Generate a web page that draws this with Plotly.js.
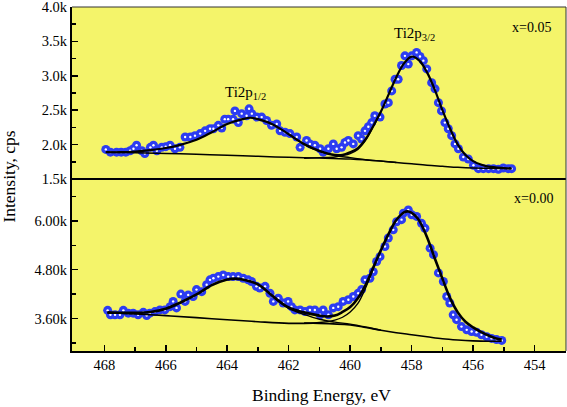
<!DOCTYPE html>
<html>
<head>
<meta charset="utf-8">
<script src="https://cdn.plot.ly/plotly-3.0.1.min.js"></script>
<style>
html,body{margin:0;padding:0;background:#fff;}
#chart{width:567px;height:407px;}
</style>
</head>
<body>
<div id="chart"></div>
<script>
// ---------- x = 0.05 (top panel), intensity in k cps ----------
const topX = [467.95,467.8,467.6,467.45,467.3,467.16,467.05,466.95,466.78,466.68,466.5,466.4,466.29,466.13,466.0,465.86,465.7,465.54,465.37,465.2,465.05,464.88,464.72,464.56,464.45,464.29,464.18,464.08,463.97,463.81,463.75,463.64,463.53,463.37,463.29,463.2,463.04,462.88,462.72,462.56,462.39,462.28,462.12,461.96,461.74,461.63,461.42,461.31,461.15,460.98,460.88,460.71,460.55,460.44,460.28,460.17,460.06,459.9,459.74,459.63,459.52,459.41,459.3,459.2,459.03,458.87,458.76,458.65,458.54,458.44,458.33,458.22,458.11,458.0,457.84,457.73,457.62,457.51,457.35,457.24,457.13,457.03,456.92,456.81,456.7,456.59,456.48,456.32,456.16,455.99,455.83,455.67,455.5,455.34,455.18,455.02,454.86,454.75];
const topY = [1.93,1.89,1.89,1.89,1.89,1.91,1.94,1.99,1.91,1.87,1.96,1.99,1.91,1.96,1.97,1.99,1.94,1.96,2.11,2.11,2.13,2.16,2.20,2.23,2.23,2.28,2.24,2.37,2.37,2.37,2.49,2.32,2.45,2.42,2.52,2.45,2.40,2.40,2.35,2.28,2.30,2.20,2.18,2.16,2.11,1.96,2.06,2.01,1.99,1.94,1.89,1.94,2.01,1.94,1.96,2.03,2.06,2.01,2.13,2.08,2.20,2.26,2.32,2.42,2.40,2.59,2.61,2.78,2.95,2.95,3.15,3.29,3.17,3.29,3.34,3.28,3.22,3.10,2.90,2.81,2.61,2.49,2.32,2.23,2.13,2.01,1.94,1.82,1.79,1.70,1.65,1.65,1.65,1.65,1.64,1.66,1.65,1.65];

const topFitX = [467.95,467.5,467,466.5,466,465.5,465,464.5,464,463.5,463.25,463,462.5,462,461.5,461,460.5,460.25,460,459.75,459.5,459.25,459,458.75,458.5,458.25,458,457.75,457.5,457.25,457,456.75,456.5,456.25,456,455.75,455.5,455,454.75];
const topFitY = [1.89,1.89,1.90,1.92,1.95,2.00,2.07,2.18,2.30,2.37,2.39,2.37,2.29,2.15,2.01,1.91,1.85,1.85,1.89,1.95,2.08,2.27,2.48,2.73,2.98,3.18,3.28,3.22,3.05,2.80,2.50,2.23,2.00,1.85,1.76,1.71,1.68,1.66,1.655];

const topBgX = [467.95,467,466,465,464,463,462,461,460,459,458.5,458,457.5,457,456.5,456,455,454.75];
const topBgY = [1.89,1.88,1.87,1.86,1.845,1.83,1.815,1.805,1.79,1.76,1.74,1.72,1.70,1.685,1.67,1.66,1.652,1.65];

const topP1X = [462,461.5,461,460.5,460,459.5,459,458.5];
const topP1Y = [2.15,2.00,1.90,1.84,1.81,1.78,1.76,1.74];
const topP2X = [461.5,461,460.5,460.25,460,459.75,459.5,459.25,459];
const topP2Y = [1.80,1.81,1.82,1.84,1.87,1.93,2.06,2.26,2.48];

// ---------- x = 0.00 (bottom panel), intensity in k cps ----------
const botX = [467.89,467.8,467.65,467.49,467.38,467.22,467.06,466.9,466.73,466.62,466.52,466.35,466.19,466.03,465.86,465.76,465.65,465.51,465.37,465.27,465.11,465.0,464.83,464.67,464.56,464.45,464.29,464.13,463.97,463.81,463.64,463.48,463.32,463.21,463.05,462.94,462.77,462.61,462.5,462.34,462.18,462.02,461.91,461.8,461.63,461.47,461.31,461.15,460.98,460.88,460.71,460.55,460.39,460.23,460.06,459.9,459.74,459.63,459.52,459.36,459.25,459.14,459.03,458.87,458.76,458.6,458.49,458.33,458.27,458.11,458.0,457.84,457.68,457.57,457.4,457.29,457.13,456.97,456.86,456.76,456.65,456.54,456.38,456.21,456.05,455.89,455.73,455.56,455.4,455.24,455.07];
const botY = [3.80,3.69,3.69,3.69,3.80,3.73,3.73,3.69,3.75,3.67,3.73,3.77,3.81,3.81,3.89,4.02,3.86,4.20,4.02,4.18,4.14,4.31,4.26,4.43,4.55,4.59,4.63,4.67,4.63,4.63,4.63,4.59,4.55,4.51,4.39,4.35,4.39,4.22,4.02,4.10,3.98,4.02,3.89,3.81,3.81,3.77,3.81,3.81,3.69,3.81,3.69,3.86,3.89,4.02,4.06,4.14,4.22,4.31,4.55,4.59,4.75,5.00,5.12,5.37,5.58,5.78,5.98,6.03,6.19,6.27,6.15,6.11,5.94,5.82,5.33,5.17,4.72,4.51,4.14,3.98,3.69,3.57,3.40,3.32,3.28,3.26,3.20,3.15,3.11,3.08,3.06];

const botFitX = [467.9,467.5,467,466.5,466,465.5,465,464.5,464,463.75,463.5,463,462.5,462,461.5,461,460.75,460.5,460.25,460,459.75,459.5,459.25,459,458.75,458.5,458.25,458.1,457.9,457.75,457.5,457.25,457,456.75,456.5,456.25,456,455.75,455.5,455.25,455.07];
const botFitY = [3.75,3.74,3.74,3.76,3.84,4.00,4.19,4.42,4.56,4.58,4.56,4.44,4.14,3.87,3.75,3.67,3.65,3.67,3.76,3.88,4.10,4.42,4.85,5.28,5.68,6.02,6.21,6.23,6.14,6.00,5.60,5.08,4.58,4.10,3.75,3.52,3.38,3.27,3.18,3.11,3.08];

const botBgX = [467.9,467,466,465,464,463,462,461,460,459.5,459,458.5,458,457.5,457,456.5,456,455.5,455.07];
const botBgY = [3.74,3.71,3.67,3.62,3.57,3.52,3.48,3.48,3.44,3.38,3.31,3.25,3.20,3.15,3.10,3.07,3.05,3.04,3.04];

const botP1X = [462.5,462,461.5,461,460.5,460,459.5,459];
const botP1Y = [4.12,3.85,3.70,3.58,3.51,3.46,3.39,3.31];
const botP2X = [461.5,461,460.5,460.25,460,459.75,459.5,459.25];
const botP2Y = [3.49,3.50,3.56,3.63,3.76,3.97,4.35,4.82];

// ---------- ticks & labels ----------
const xTickVals = [468,466,464,462,460,458,456,454];
const xTickText = ['468','466','464','462','460','458','456','454'];
const xMinorVals = [467,465,463,461,459,457,455];
const topTickVals = [1.5,2.0,2.5,3.0,3.5,4.0];
const topTickText = ['1.5k','2.0k','2.5k','3.0k','3.5k','4.0k'];
const topMinorVals = [1.75,2.25,2.75,3.25,3.75];
const botTickVals = [3.6,4.8,6.0];
const botTickText = ['3.60k','4.80k','6.00k'];
const botMinorVals = [3.0,4.2,5.4,6.6];
const panelLabels = ['x=0.05','x=0.00'];
const peakLabels = ['Ti2p<sub>1/2</sub>','Ti2p<sub>3/2</sub>'];
const xTitle = 'Binding Energy, eV';
const yTitle = 'Intensity, cps';

const FONT = 'Liberation Serif, Times New Roman, serif';
const BLUE = '#2c3cf2';

function markers(x, y, ya){
  return [
    {x:x, y:y, yaxis:ya, type:'scatter', mode:'markers',
     marker:{size:9, color:BLUE, line:{width:0}}, hoverinfo:'skip'},
    {x:x, y:y, yaxis:ya, type:'scatter', mode:'markers',
     marker:{size:2.4, color:'#ffffff', line:{width:0}}, hoverinfo:'skip'}
  ];
}
function line(x, y, ya, w){
  return {x:x, y:y, yaxis:ya, type:'scatter', mode:'lines',
    line:{color:'#000', width:w, shape:'spline', smoothing:1}, hoverinfo:'skip'};
}

const data = [].concat(
  markers(topX, topY, 'y'),
  markers(botX, botY, 'y2'),
  [
    line(topBgX, topBgY, 'y', 1.5),
    line(topP1X, topP1Y, 'y', 1.4),
    line(topP2X, topP2Y, 'y', 1.4),
    line(topFitX, topFitY, 'y', 2.2),
    line(botBgX, botBgY, 'y2', 1.6),
    line(botP1X, botP1Y, 'y2', 1.4),
    line(botP2X, botP2Y, 'y2', 1.4),
    line(botFitX, botFitY, 'y2', 2.6)
  ]
);

const tickFont = {family:FONT, size:14.5, color:'#000'};

const layout = {
  width:567, height:407,
  margin:{l:72, r:1, t:7, b:56},
  paper_bgcolor:'#ffffff',
  plot_bgcolor:'#f4f46a',
  showlegend:false,
  font:{family:FONT, color:'#000'},
  xaxis:{
    range:[469.05,452.98], anchor:'y2',
    tickmode:'array', tickvals:xTickVals, ticktext:xTickText,
    ticks:'inside', ticklen:6, tickwidth:1.5, tickcolor:'#000',
    minor:{tickmode:'array', tickvals:xMinorVals, ticks:'inside', ticklen:4, tickwidth:1.5, tickcolor:'#000', showgrid:false},
    showline:true, linewidth:2, linecolor:'#000', ticklabeloverflow:'allow',
    showgrid:false, zeroline:false, tickfont:tickFont
  },
  yaxis:{
    domain:[0.5,1], range:[1.5,4.0], anchor:'x',
    tickmode:'array', tickvals:topTickVals, ticktext:topTickText,
    ticks:'inside', ticklen:6, tickwidth:1.5, tickcolor:'#000',
    minor:{tickmode:'array', tickvals:topMinorVals, ticks:'inside', ticklen:4, tickwidth:1.5, tickcolor:'#000', showgrid:false},
    showline:true, linewidth:2, linecolor:'#000', ticklabeloverflow:'allow',
    showgrid:false, zeroline:false, tickfont:tickFont
  },
  yaxis2:{
    domain:[0,0.5], range:[2.8,7.03], anchor:'x',
    tickmode:'array', tickvals:botTickVals, ticktext:botTickText,
    ticks:'inside', ticklen:6, tickwidth:1.5, tickcolor:'#000',
    minor:{tickmode:'array', tickvals:botMinorVals, ticks:'inside', ticklen:4, tickwidth:1.5, tickcolor:'#000', showgrid:false},
    showline:true, linewidth:2, linecolor:'#000', ticklabeloverflow:'allow',
    showgrid:false, zeroline:false, tickfont:tickFont
  },
  shapes:[
    {type:'line', xref:'paper', yref:'paper', x0:0, x1:1, y0:0.5, y1:0.5, line:{color:'#000', width:2}},
    {type:'line', xref:'paper', yref:'paper', x0:0, x1:1, y0:1, y1:1, line:{color:'#333', width:1}},
    {type:'line', xref:'paper', yref:'paper', x0:1, x1:1, y0:0, y1:1, line:{color:'#333', width:1}}
  ],
  annotations:[
    {xref:'paper', yref:'paper', x:0.9306, y:0.940, text:panelLabels[0], showarrow:false,
     xanchor:'center', yanchor:'middle', font:{family:FONT, size:14, color:'#000'}},
    {xref:'paper', yref:'paper', x:0.935, y:0.4426, text:panelLabels[1], showarrow:false,
     xanchor:'center', yanchor:'middle', font:{family:FONT, size:14, color:'#000'}},
    {xref:'x', yref:'y', x:463.39, y:2.75, text:peakLabels[0], showarrow:false,
     xanchor:'center', yanchor:'middle', font:{family:FONT, size:15, color:'#000'}},
    {xref:'x', yref:'y', x:457.9, y:3.61, text:peakLabels[1], showarrow:false,
     xanchor:'center', yanchor:'middle', font:{family:FONT, size:15, color:'#000'}},
    {xref:'paper', yref:'paper', x:0.506, y:-0.1275, text:xTitle, showarrow:false,
     xanchor:'center', yanchor:'middle', font:{family:FONT, size:17.5, color:'#000'}},
    {xref:'paper', yref:'paper', x:-0.1275, y:0.507, text:yTitle, showarrow:false, textangle:-90,
     xanchor:'center', yanchor:'middle', font:{family:FONT, size:17.5, color:'#000'}}
  ]
};

Plotly.newPlot('chart', data, layout, {staticPlot:true, displayModeBar:false});
</script>
</body>
</html>
